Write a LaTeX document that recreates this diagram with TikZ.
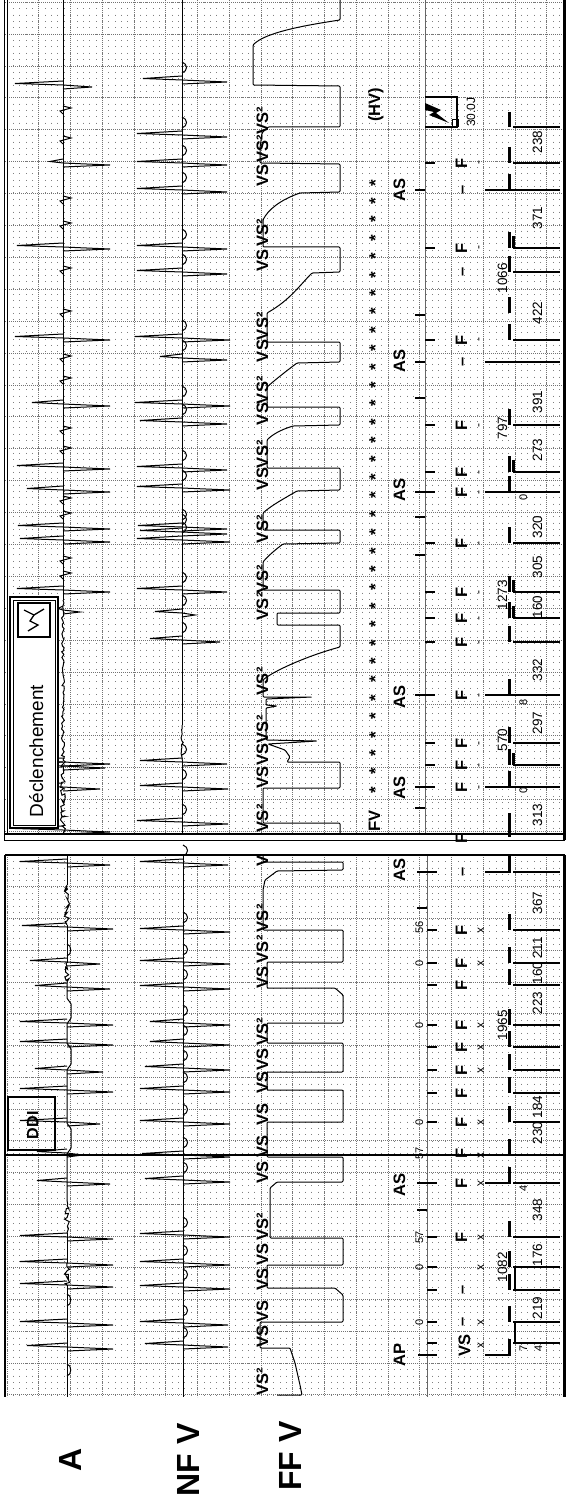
\documentclass[tikz,border=0pt]{standalone}
\usepackage{fontspec}
\setmainfont{Liberation Sans}
\usetikzlibrary{decorations.pathmorphing}
\begin{document}
\begin{tikzpicture}[x=1pt,y=-1pt,
  trace/.style={line width=1pt},
  majgrid/.style={black!55, line width=0.55pt, dash pattern=on 0.6pt off 1.4pt},
  mingrid/.style={black!50, line width=0.7pt, dash pattern=on 0.7pt off 5.65pt},
  rt/.style={rotate=90, inner sep=0pt, outer sep=0pt},
  lbl/.style={rt, anchor=base west, font=\bfseries\fontsize{16.5}{17}\selectfont},
  mk/.style={rt, anchor=base, font=\bfseries\fontsize{16.5}{16}\selectfont},
  xs/.style={rt, anchor=base, font=\fontsize{12}{12}\selectfont},
  num/.style={rt, anchor=base, font=\fontsize{13.5}{13}\selectfont},
  sn/.style={rt, anchor=base, font=\fontsize{11}{11}\selectfont},
  big/.style={rt, anchor=center, font=\bfseries\fontsize{32}{32}\selectfont},
  tk/.style={line width=1.8pt},
  lad/.style={line width=1.6pt},
  bar/.style={line width=3pt},
  fib/.style={trace, decorate, decoration={random steps, segment length=2.2pt, amplitude=2.6pt}},
  fibs/.style={trace, decorate, decoration={random steps, segment length=2.5pt, amplitude=1.5pt}},
]
\pgfmathsetseed{4242}
\fill[white] (0,0) rectangle (567,1506);
\useasboundingbox (0,0) rectangle (567,1506);

% ---------------- grids ----------------
\foreach \i in {0,...,87} {
  \draw[mingrid] ({7+6.35*\i},2) -- ({7+6.35*\i},834);
  \draw[mingrid] ({7+6.35*\i},855) -- ({7+6.35*\i},1397);
}
\foreach \k in {0,...,17} {
  \draw[majgrid] ({7+31.75*\k},0) -- ({7+31.75*\k},834);
  \draw[majgrid] ({7+31.75*\k},855) -- ({7+31.75*\k},1397);
}
\foreach \j in {0,...,26} \draw[majgrid] (5,{2+31.9*\j}) -- (563,{2+31.9*\j});
\foreach \j in {1,...,17} \draw[majgrid] (5,{855+31.75*\j}) -- (563,{855+31.75*\j});

% marker axes
\draw[black!60, line width=0.8pt] (425,0) -- (425,834);
\draw[black!60, line width=0.8pt] (427,855) -- (427,1397);

% ---------------- A channel ----------------
\draw[trace] (63,0) -- (63,600);
\draw[fibs] (63,600) -- (63,760);
\draw[fib] (63,760) -- (63,834);
\foreach \y in {110,140,200,225,270,313,358,380,430,450,500,515,560,575}
  \draw[trace] (63,\y-4) -- (71,\y-2) -- (60,\y+1) -- (63,\y+4);
\foreach \y/\l/\r in {85/15/92,163/50/110,247/17/110,338/15/110,404/32/110,467/17/110,490/27/110,527/18/110,540/20/110,590/17/110,610/58/80,762/17/110,766/25/105,787/17/100,830/15/110}
  \draw[trace] (63,\y-4) -- (\l,\y-1.5) -- (63,\y) -- (\r,\y+2) -- (63,\y+4);

\draw[trace] (67,855) -- (67,885);
\draw[fib] (67,885) -- (67,925);
\draw[trace] (67,925) -- (67,963);
\draw[fib] (67,963) -- (67,985);
\draw[trace, rounded corners=2pt] (67,985) -- (67,1000) -- (71,1002) -- (71,1020) -- (67,1022) -- (67,1045) -- (71,1047) -- (71,1066) -- (67,1068) -- (67,1125) -- (71,1127) -- (71,1150) -- (67,1152) -- (67,1200);
\draw[fib] (67,1200) -- (67,1233);
\draw[trace] (67,1233) -- (67,1263);
\draw[fib] (67,1263) -- (67,1285);
\draw[trace] (67,1285) -- (67,1397);
\foreach \y in {950,1300,1370}
  \draw[trace] (67,\y-6) .. controls (72,\y-5) and (72,\y+5) .. (67,\y+6);
\foreach \y/\l/\r in {863/20/110,927/22/113,962/30/100,987/35/110,1023/20/113,1043/20/113,1070/35/103,1090/20/113,1122/20/100,1153/37/83,1182/37/110,1237/20/113,1263/20/113,1285/20/113,1323/20/113,1347/27/113}
  \draw[trace] (67,\y-4) -- (\l,\y-1.5) -- (67,\y) -- (\r,\y+2) -- (67,\y+4);

% ---------------- NF V channel ----------------
\draw[trace] (182,0) -- (182,725);
\draw[fibs] (182,725) -- (182,760);
\draw[trace] (182,760) -- (182,834);
\foreach \y/\l/\r in {80/143/227,135/137/227,163/137/227,190/137/227,247/137/227,272/137/227,338/135/230,358/160/227,404/135/230,422/140/227,468/137/227,488/137/230,527/138/227,532/140/227,540/137/230,590/137/227,613/155/195,640/150/220,762/140/227,787/140/228,822/137/228} {
  \draw[trace] (182,\y-4) -- (\l,\y-1.5) -- (182,\y) -- (\r,\y+2) -- (182,\y+4);
  \draw[trace] (182,\y-18) .. controls (188,\y-16) and (188,\y-9) .. (182,\y-7);
}
\draw[trace] (183,855) -- (183,1397);
\foreach \y/\l/\r in {863/140/228,930/140/230,962/140/230,987/140/230,1023/150/230,1043/150/230,1068/145/230,1090/140/230,1122/140/230,1155/142/230,1180/145/230,1235/140/230,1263/140/230,1287/140/230,1323/140/228,1345/145/228} {
  \draw[trace] (183,\y-4) -- (\l,\y-1.5) -- (183,\y) -- (\r,\y+2) -- (183,\y+4);
  \draw[trace] (183,\y-18) .. controls (189,\y-16) and (189,\y-9) .. (183,\y-7);
}

% ---------------- FF V channel ----------------
\draw[trace, rounded corners=1pt] (340,0) -- (340,20) .. controls (300,26) and (265,33) .. (253,45) -- (253,85) -- (340,86) -- (340,127) -- (268,127) -- (262,133) -- (260,148) -- (260,163) -- (340,164) -- (340,192) -- (300,193) .. controls (280,200) and (268,210) .. (263,220) -- (263,247) -- (340,247) -- (340,272) -- (312,273) .. controls (300,285) and (290,300) .. (267,313) -- (267,342) -- (340,342) -- (340,362) -- (297,363) .. controls (285,372) and (275,380) .. (267,387) -- (267,407) -- (340,407) -- (340,425) -- (293,426) .. controls (280,430) and (272,435) .. (267,440) -- (267,468) -- (340,468) -- (340,490) -- (297,491) .. controls (285,498) and (272,505) .. (263,513) -- (263,530) -- (340,530) -- (340,543) -- (283,544) .. controls (275,550) and (268,556) .. (263,562) -- (263,590) -- (340,590) -- (340,613) -- (277,613) -- (277,625) -- (340,625) -- (340,647) .. controls (310,655) and (275,670) .. (263,680) -- (263,697) -- (312,697) -- (266,699) -- (266,705) -- (277,706) -- (266,708) -- (266,740) -- (317,741) -- (268,744) -- (285,750) -- (290,757) -- (287,762) -- (340,762) -- (340,788) -- (263,788) -- (263,823) -- (340,823) -- (340,834);
\draw[trace, rounded corners=1pt] (263,855) -- (263,862) -- (343,862) -- (343,870) -- (277,871) -- (265,880) -- (263,890) -- (263,930) -- (343,930) -- (343,962) -- (267,962) -- (267,988) -- (335,988) -- (343,995) -- (343,1023) -- (267,1023) -- (267,1043) -- (343,1043) -- (343,1072) -- (267,1072) -- (267,1090) -- (343,1090) -- (343,1122) -- (267,1122) -- (267,1157) -- (343,1157) -- (343,1182) -- (277,1182) -- (270,1188) -- (270,1238) -- (343,1238) -- (343,1265) -- (267,1265) -- (267,1288) -- (335,1288) -- (343,1295) -- (343,1322) -- (260,1322) -- (260,1348) -- (290,1348) -- (295,1363) -- (300,1385) -- (302,1395) -- (277,1395);

% ---------------- VS labels ----------------
\foreach \y/\s [count=\i] in {832/VS²,788/VS,765/VS,743/VS²,695/VS²,620/VS²,593/VS²,543/VS²,490/VS,468/VS²,425/VS,404/VS²,362/VS,340/VS²,272/VS,247/VS²,187/VS,163/VS²,135/VS²}
  \node[lbl, name=vb\i] at (268,\y) {\s};
\foreach \y/\s [count=\i] in {1395/VS²,1347/VS,1322/VS,1290/VS,1265/VS,1240/VS²,1183/VS,1157/VS,1125/VS,1093/VS,1070/VS,1045/VS²,988/VS,963/VS²,932/VS²,866/V}
  \node[lbl, name=va\i] at (268,\y) {\s};

% ---------------- stars, FV, HV ----------------
\foreach \k in {0,...,33}
  \node[rt, anchor=base, font=\bfseries\fontsize{17}{17}\selectfont, name=st\k] at (381,{790-18.4*\k}) {*};
\node[mk, name=fv] at (380,821) {FV};
\node[mk, name=hv] at (380,105) {(HV)};

% ---------------- marker channel, panel 2 ----------------
\foreach \y in {787,765,743,695,642,618,592,543,492,472,425,340,248,163}
  \draw[tk] (425,\y) -- (435,\y);
\foreach \y in {808,787,695,555,517,492,398,362,315,190}
  \draw[tk] (415,\y) -- (425,\y);
\foreach \y [count=\i] in {788,697,490,361,190}
  \node[mk, name=as2\i] at (405,\y) {AS};
\foreach \y [count=\i] in {838,787,765,743,695,642,618,592,543,492,472,425,340,248,163}
  \node[mk, name=f2\i] at (467,\y) {F};
\foreach \y [count=\i] in {362,272,190}
  \node[mk, name=d2\i] at (467,\y) {–};
\foreach \y [count=\i] in {787,765,743,695,642,618,592,543,492,472,425,340,248,163}
  \node[xs, name=h2\i] at (482,\y) {-};

% ---------------- marker channel, panel 1 ----------------
\foreach \y in {1343,1322,1290,1267,1237,1183,1155,1122,1093,1070,1047,1025,985,963,930}
  \draw[tk] (427,\y) -- (437,\y);
\foreach \y in {1210,1183,908,872}
  \draw[tk] (417,\y) -- (427,\y);
\draw[tk] (418,1355) -- (437,1355);
\draw[tk] (427,872) -- (437,872);
\node[mk, name=ap] at (405,1355) {AP};
\node[mk, name=as11] at (405,1185) {AS};
\node[mk, name=as12] at (405,870) {AS};
\node[mk, name=vsm] at (470,1345) {VS};
\foreach \y/\s [count=\i] in {1322/0,1267/0,1237/57,1153/57,1122/0,1025/0,963/0,927/56}
  \node[sn, name=ax\i] at (423,\y) {\s};
\foreach \y [count=\i] in {1237,1183,1153,1122,1093,1070,1047,1025,985,963,930}
  \node[mk, name=f1\i] at (467,\y) {F};
\foreach \y [count=\i] in {1322,1290,872}
  \node[mk, name=d1\i] at (467,\y) {–};
\foreach \y [count=\i] in {1345,1322,1267,1237,1183,1155,1122,1070,1047,1025,963,930}
  \node[xs, name=x1\i] at (484,\y) {x};

% ---------------- ladder, panel 2 ----------------
\foreach \y in {787,765,743,695,642,618,592,543,492,472,425,340,272,248,163,127}
  \draw[lad] (513,\y) -- (560,\y);
\foreach \y in {787,695,492,362,190}
  \draw[lad] (485,\y) -- (560,\y);
\foreach \y in {787,765,743,695,642,618,592,543,492,472,425,340,313,272,248,190,163}
  \draw[bar] (509,\y-16) -- (509,\y);
\foreach \y in {765,618,592,472,248}
  \draw[bar] (513,\y-12) -- (513,\y);
\draw[bar] (509,813) -- (509,837);
\draw[bar] (509,112) -- (509,127);
\foreach \y/\s [count=\i] in {815/313,723/297,670/332,607/160,567/305,527/320,450/273,402/391,313/422,218/371,142/238}
  \node[num, name=l2\i] at (542,\y) {\s};
\foreach \y/\s [count=\i] in {790/0,702/8,497/0}
  \node[sn, name=s2\i] at (527,\y) {\s};
\foreach \y/\s [count=\i] in {740/570,595/1273,428/797,278/1066}
  \node[num, name=k2\i] at (507,\y) {\s};

% shock
\draw[line width=1.3pt] (425,97) -- (457,97) -- (457,127) -- (425,127);
\draw[line width=1pt] (452,120) rectangle (458,127);
\fill (425,103) -- (441,110) -- (436,113) -- (449,123) -- (429,115) -- (434,112) -- (425,110) -- cycle;
\node[rt, anchor=base west, font=\fontsize{12}{12}\selectfont, name=joule] at (475,127) {30.0J};

% ---------------- ladder, panel 1 ----------------
\foreach \y in {1343,1322,1290,1267,1237,1183,1155,1122,1093,1070,1047,1025,985,963,930,872}
  \draw[lad] (513,\y) -- (560,\y);
\foreach \y in {1355,1183,872}
  \draw[lad] (485,\y) -- (511,\y);
\draw[lad] (515,1267) -- (515,1290);
\draw[lad] (515,1322) -- (515,1343);
\foreach \y in {1355,1322,1290,1267,1237,1183,1155,1122,1093,1070,1047,1025,985,963,930,872}
  \draw[bar] (509,\y-16) -- (509,\y);
\foreach \y/\s [count=\i] in {1308/219,1255/176,1210/348,1133/230,1107/184,1003/223,973/160,948/211,903/367}
  \node[num, name=l1\i] at (542,\y) {\s};
\node[sn, name=s11] at (527,1348) {7};
\node[sn, name=s12] at (542,1348) {4};
\node[sn, name=s13] at (527,1188) {4};
\node[num, name=k11] at (507,1267) {1082};
\node[num, name=k12] at (507,1025) {1965};

% ---------------- boxes ----------------
\fill[white] (10,597) rectangle (58,828);
\draw[line width=1.2pt] (10,597) rectangle (58,828);
\draw[line width=0.8pt] (13,600) rectangle (55,825);
\draw[line width=1.5pt] (18,603) rectangle (50,637);
\draw[line width=1.3pt] (44,609) -- (34,615) -- (24,610);
\draw[line width=1.3pt] (34,615) -- (30,621) -- (38,625) -- (28,631);
\node[rt, anchor=base west, font=\fontsize{19}{19}\selectfont, name=decl] at (43,817) {Déclenchement};
\draw[line width=1.8pt] (8,1097) rectangle (55,1150);
\node[rt, anchor=base west, font=\bfseries\fontsize{16}{16}\selectfont, name=ddi] at (38,1139) {DDI};

% ---------------- frames ----------------
\draw[line width=0.9pt] (4,0) -- (4,840);
\draw[line width=0.9pt] (7,0) -- (7,834);
\draw[line width=2pt] (4,834) -- (565,834);
\draw[line width=1pt] (4,840) -- (565,840);
\draw[line width=1.5pt] (5,855) -- (565,855);
\draw[line width=1.2pt] (5,855) -- (5,1397);
\draw[line width=2pt] (5,1155) -- (565,1155);
\draw[line width=2.5pt] (564.5,0) -- (564.5,840);
\draw[line width=2.5pt] (564.5,855) -- (564.5,1397);

% ---------------- channel names ----------------
\node[big, name=nA] at (70,1460) {A};
\node[big, name=nNF] at (188,1460) {NF V};
\node[big, name=nFF] at (290,1456) {FF V};
\end{tikzpicture}
\end{document}
